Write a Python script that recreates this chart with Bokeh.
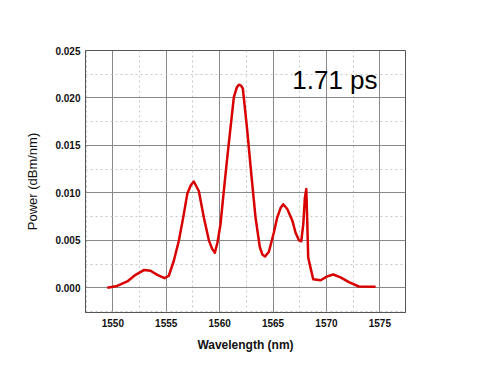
from bokeh.plotting import figure
from bokeh.models import Range1d, FixedTicker, NumeralTickFormatter, Label
from bokeh.embed import file_html
from bokeh.resources import INLINE

wavelength = [1549.48, 1550.41, 1551.35, 1552.13, 1552.90, 1553.53, 1554.16, 1554.84, 1555.24,
              1555.71, 1556.18, 1556.59, 1556.97, 1557.30, 1557.58, 1558.05, 1558.52, 1558.99,
              1559.30, 1559.55, 1559.80, 1560.08, 1560.39, 1560.71, 1561.02, 1561.33, 1561.60,
              1561.80, 1562.00, 1562.17, 1562.58, 1562.96, 1563.36, 1563.76, 1564.00, 1564.25,
              1564.61, 1565.07, 1565.39, 1565.70, 1565.95, 1566.33, 1566.80, 1567.11, 1567.42,
              1567.64, 1567.83, 1567.98, 1568.11, 1568.20, 1568.29, 1568.51, 1568.76, 1569.45,
              1570.07, 1570.64, 1571.32, 1572.10, 1573.03, 1574.60]
power = [0.0000, 0.0002, 0.00067, 0.00137, 0.00187, 0.0018, 0.00137, 0.00102, 0.00127,
         0.00285, 0.00496, 0.00742, 0.0099, 0.0108, 0.0112, 0.0102, 0.0074, 0.0050,
         0.0041, 0.0037, 0.0048, 0.0067, 0.0102, 0.0137, 0.0169, 0.0201, 0.0211,
         0.0214, 0.0213, 0.0210, 0.0166, 0.0120, 0.0074, 0.0043, 0.0035, 0.0033,
         0.0038, 0.0058, 0.0074, 0.0084, 0.0088, 0.0083, 0.0071, 0.0058, 0.0050,
         0.0049, 0.0067, 0.0095, 0.0104, 0.0071, 0.0032, 0.0021, 0.0009, 0.0008,
         0.0012, 0.0014, 0.0011, 0.0006, 0.00014, 0.0001]

x_ticks = [1550, 1555, 1560, 1565, 1570, 1575]
x_minor = [1547.5, 1552.5, 1557.5, 1562.5, 1567.5, 1572.5, 1577.5]
y_ticks = [0.000, 0.005, 0.010, 0.015, 0.020, 0.025]
y_minor = [-0.0025, 0.0025, 0.0075, 0.0125, 0.0175, 0.0225]
annotation = "1.71 ps"

p = figure(output_backend="svg", toolbar_location=None,
           frame_width=320, frame_height=262,
           min_border_left=85, min_border_right=79, min_border_top=50, min_border_bottom=52,
           x_range=Range1d(1547.44, 1577.4), y_range=Range1d(-0.0026, 0.025))

p.line(wavelength, power, line_color="#d80000", line_width=2.5, line_join="round")

p.xaxis.ticker = FixedTicker(ticks=x_ticks, minor_ticks=x_minor)
p.yaxis.ticker = FixedTicker(ticks=y_ticks, minor_ticks=y_minor)
p.yaxis.formatter = NumeralTickFormatter(format="0.000")

for ax in (p.xaxis, p.yaxis):
    ax.major_tick_out = 0
    ax.major_tick_in = 0
    ax.minor_tick_out = 0
    ax.minor_tick_in = 0
    ax.axis_line_color = "#555555"
    ax.major_label_text_font = "Liberation Sans"
    ax.major_label_text_font_style = "bold"
    ax.major_label_text_font_size = "10px"
    ax.major_label_text_color = "#111111"
    ax.axis_label_text_font = "Liberation Sans"
    ax.axis_label_text_color = "#111111"
    ax.axis_label_text_font_size = "12px"

p.xaxis.axis_label = "Wavelength (nm)"
p.xaxis.axis_label_text_font_style = "bold"
p.xaxis.major_label_standoff = 6
p.xaxis.axis_label_standoff = 8
p.yaxis.axis_label = "Power (dBm/nm)"
p.yaxis.axis_label_text_font_style = "normal"
p.yaxis.axis_label_text_font_size = "13px"
p.yaxis.major_label_standoff = 5
p.yaxis.axis_label_standoff = 12

p.grid.grid_line_color = "#888888"
p.grid.grid_line_width = 1
p.grid.minor_grid_line_color = "#c8c8c8"
p.grid.minor_grid_line_dash = "2 3"

p.outline_line_color = "#555555"
p.outline_line_width = 1
p.background_fill_color = "white"
p.border_fill_color = "white"

p.add_layout(Label(x=1566.8, y=0.0203, text=annotation, text_font="Liberation Sans",
                   text_font_size="26px", text_color="black"))

open("out.html", "w").write(file_html(p, INLINE))
